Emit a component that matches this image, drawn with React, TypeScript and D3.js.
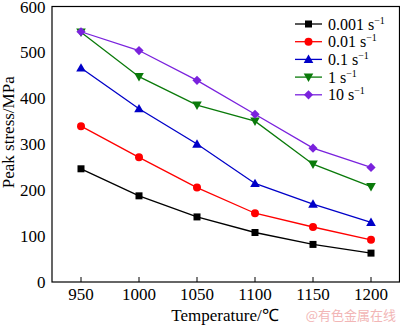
import React from "react";
import * as d3 from "d3";

const temps = [950, 1000, 1050, 1100, 1150, 1200];
const s0001 = [247, 188, 142, 108, 82, 63];
const s001 = [340, 272, 206, 150, 120, 92];
const s01 = [467, 378, 301, 215, 170, 130];
const s1 = [545, 448, 386, 351, 257, 208];
const s10 = [546, 505, 440, 366, 292, 250];
const yTicks = [0, 100, 200, 300, 400, 500, 600];
const seriesNames = ["0.001", "0.01", "0.1", "1", "10"];

const series = [
  { name: seriesNames[0], values: s0001, color: "#000000", shape: "square" },
  { name: seriesNames[1], values: s001, color: "#ff0000", shape: "circle" },
  { name: seriesNames[2], values: s01, color: "#0000c8", shape: "tri" },
  { name: seriesNames[3], values: s1, color: "#0a7a0a", shape: "tridown" },
  { name: seriesNames[4], values: s10, color: "#7a22dd", shape: "diamond" },
];

const FONT = "'Liberation Serif', 'Times New Roman', serif";

function Marker({ shape, x, y, color }: { shape: string; x: number; y: number; color: string }) {
  if (shape === "square") return <rect x={x - 3.5} y={y - 3.5} width={7} height={7} fill={color} />;
  if (shape === "circle") return <circle cx={x} cy={y} r={4} fill={color} />;
  if (shape === "tri") return <path d={`M${x},${y - 4.8}L${x + 4.8},${y + 3.6}L${x - 4.8},${y + 3.6}Z`} fill={color} />;
  if (shape === "tridown") return <path d={`M${x},${y + 4.8}L${x + 4.8},${y - 3.6}L${x - 4.8},${y - 3.6}Z`} fill={color} />;
  return <path d={`M${x},${y - 4.6}L${x + 4.6},${y}L${x},${y + 4.6}L${x - 4.6},${y}Z`} fill={color} />;
}

export default function App() {
  const left = 52, right = 399.5, top = 6.5, bottom = 282;
  const x = d3.scaleLinear().domain([925, 1225]).range([left, 400]);
  const y = d3.scaleLinear().domain([0, 600]).range([bottom, 7]);
  const line = d3.line<[number, number]>().x((d) => x(d[0])).y((d) => y(d[1]));

  return (
    <svg width={400} height={325} style={{ position: "absolute", left: 0, top: 0, background: "#fff" }} fontFamily={FONT}>
      <rect x={0} y={0} width={400} height={325} fill="#fff" />
      {series.map((s) => (
        <g key={s.name}>
          <path d={line(temps.map((t, i) => [t, s.values[i]] as [number, number])) || ""} fill="none" stroke={s.color} strokeWidth={1.3} />
          {temps.map((t, i) => (
            <Marker key={t} shape={s.shape} x={x(t)} y={y(s.values[i])} color={s.color} />
          ))}
        </g>
      ))}
      <rect x={left} y={top} width={right - left} height={bottom - top} fill="none" stroke="#000" strokeWidth={1.2} />
      {temps.map((t) => (
        <g key={t}>
          <line x1={x(t)} x2={x(t)} y1={bottom} y2={bottom - 5} stroke="#000" strokeWidth={1} />
          <text x={x(t)} y={300} textAnchor="middle" fontSize={17} fill="#000">{t}</text>
        </g>
      ))}
      {yTicks.map((v) => (
        <text key={v} x={45.5} y={y(v) + 5.5} textAnchor="end" fontSize={17} fill="#000">{v}</text>
      ))}
      <text x={225} y={321} textAnchor="middle" fontSize={17} fill="#000">Temperature/℃</text>
      <text transform={`translate(14,${(top + bottom) / 2 - 12}) rotate(-90)`} textAnchor="middle" fontSize={17} fill="#000">Peak stress/MPa</text>
      {series.map((s, i) => {
        const ly = 24 + i * 17.7;
        return (
          <g key={"lg" + s.name}>
            <line x1={295} x2={322} y1={ly} y2={ly} stroke={s.color} strokeWidth={1.3} />
            <Marker shape={s.shape} x={308.5} y={ly} color={s.color} />
            <text x={328} y={ly + 5.5} fontSize={16} fill="#000">
              {s.name} s
              <tspan fontSize={10} dy={-6}>−1</tspan>
            </text>
          </g>
        );
      })}
      <text x={396} y={320} textAnchor="end" fontSize={13} fill="#f2b6b6" fontFamily="'Noto Sans CJK SC', sans-serif">@有色金属在线</text>
    </svg>
  );
}
